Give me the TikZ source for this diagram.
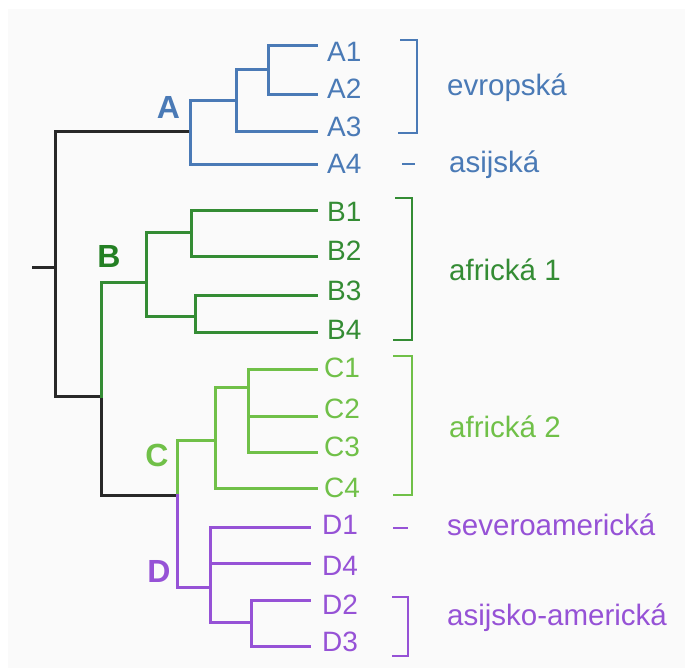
\documentclass[tikz,border=0pt]{standalone}
\usepackage{fontspec}
\setmainfont{Liberation Sans}
\definecolor{cA}{RGB}{74,122,182}
\definecolor{cB}{RGB}{52,140,52}
\definecolor{cBt}{RGB}{36,128,36}
\definecolor{cC}{RGB}{112,192,72}
\definecolor{cD}{RGB}{150,82,214}
\definecolor{cK}{RGB}{40,40,40}
\definecolor{bg}{RGB}{250,250,250}
\tikzset{
  branch/.style={line width=3pt, line join=miter, line cap=rect},
  brack/.style={line width=1.5pt, line join=miter},
  leaf/.style={anchor=west, inner sep=0pt, font=\fontsize{28}{32}\selectfont},
  grp/.style={anchor=base west, inner sep=0pt, font=\fontsize{29.5}{34}\selectfont},
  clade/.style={anchor=center, inner sep=0pt, font=\fontsize{32}{36}\bfseries},
}
\begin{document}
\begin{tikzpicture}[x=1pt,y=-1pt]
\useasboundingbox (0,0) rectangle (685,670);
\fill[white] (0,0) rectangle (685,670);
\fill[bg] (8,9) rectangle (685,668);

% leaf ends
\coordinate (eA1) at (316,45);  \coordinate (eA2) at (316,94);
\coordinate (eA3) at (316,131); \coordinate (eA4) at (316,164);
\coordinate (eB1) at (316,210); \coordinate (eB2) at (316,256);
\coordinate (eB3) at (316,295); \coordinate (eB4) at (316,332);
\coordinate (eC1) at (316,369); \coordinate (eC2) at (316,416);
\coordinate (eC3) at (316,452); \coordinate (eC4) at (316,488);
\coordinate (eD1) at (309,527); \coordinate (eD4) at (309,563);
\coordinate (eD2) at (309,600); \coordinate (eD3) at (309,646);

% internal nodes
\coordinate (root) at (33,267);
\coordinate (r0) at (55,267);
\coordinate (nA) at (190,131);
\coordinate (nBCD) at (101,396);
\coordinate (nCD) at (177,495);
\coordinate (nB) at (146,282);

% black backbone
\draw[branch,cK] (root) -- (r0);
\draw[branch,cK] (nA) -- (55,131) -- (55,396) -- (nBCD) -- (101,495) -- (nCD);

% clade A
\draw[branch,cA] (eA4) -- (190,164) -- (190,100) -- (236,100);
\draw[branch,cA] (eA3) -- (236,131) -- (236,69) -- (268,69);
\draw[branch,cA] (eA1) -- (268,45) -- (268,94) -- (eA2);

% clade B
\draw[branch,cB] (nBCD) -- (101,282) -- (nB);
\draw[branch,cB] (191,232) -- (146,232) -- (146,316) -- (195,316);
\draw[branch,cB] (eB1) -- (191,210) -- (191,256) -- (eB2);
\draw[branch,cB] (eB3) -- (195,295) -- (195,332) -- (eB4);

% clade C
\draw[branch,cC] (nCD) -- (177,440) -- (215,440);
\draw[branch,cC] (eC4) -- (215,488) -- (215,387) -- (248,387);
\draw[branch,cC] (eC1) -- (248,369) -- (248,452) -- (eC3);
\draw[branch,cC] (248,416) -- (eC2);

% clade D
\draw[branch,cD] (nCD) -- (177,587) -- (210,587);
\draw[branch,cD] (eD1) -- (210,527) -- (210,622) -- (251,622);
\draw[branch,cD] (210,563) -- (eD4);
\draw[branch,cD] (eD2) -- (251,600) -- (251,646) -- (eD3);

% clade letters
\node[clade,cA]  (lA) at (168.5,107.5) {A};
\node[clade,cBt] (lB) at (109,256) {B};
\node[clade,cC]  (lC) at (157,455) {C};
\node[clade,cD]  (lD) at (159,571) {D};

% leaf labels
\node[leaf,cA] (tA1) at (327,52) {A1};
\node[leaf,cA] (tA2) at (327,89) {A2};
\node[leaf,cA] (tA3) at (327,127) {A3};
\node[leaf,cA] (tA4) at (327,164) {A4};
\node[leaf,cB] (tB1) at (327,212) {B1};
\node[leaf,cB] (tB2) at (327,251) {B2};
\node[leaf,cB] (tB3) at (327,291) {B3};
\node[leaf,cB] (tB4) at (327,330) {B4};
\node[leaf,cC] (tC1) at (324,368) {C1};
\node[leaf,cC] (tC2) at (324,409) {C2};
\node[leaf,cC] (tC3) at (324,447) {C3};
\node[leaf,cC] (tC4) at (324,488) {C4};
\node[leaf,cD] (tD1) at (322,525) {D1};
\node[leaf,cD] (tD4) at (322,566) {D4};
\node[leaf,cD] (tD2) at (322,605) {D2};
\node[leaf,cD] (tD3) at (322,642) {D3};

% brackets
\draw[brack,cA] (400,40) -- (417,40) -- (417,133) -- (398,133);
\draw[brack,cA] (402,164) -- (415,164);
\draw[brack,cB] (395,198) -- (412,198) -- (412,340) -- (393,340);
\draw[brack,cC] (393,356) -- (412,356) -- (412,495) -- (393,495);
\draw[brack,cD] (393,528) -- (408,528);
\draw[brack,cD] (392,597) -- (408,597) -- (408,656) -- (392,656);

% group labels
\node[grp,cA] (gEvr) at (447,95) {evropská};
\node[grp,cA] (gAsi) at (449,172) {asijská};
\node[grp,cB] (gAf1) at (449,280) {africká 1};
\node[grp,cC] (gAf2) at (449,437) {africká 2};
\node[grp,cD] (gSev) at (447,535) {severoamerická};
\node[grp,cD] (gAsA) at (447,625) {asijsko-americká};
\end{tikzpicture}
\end{document}
